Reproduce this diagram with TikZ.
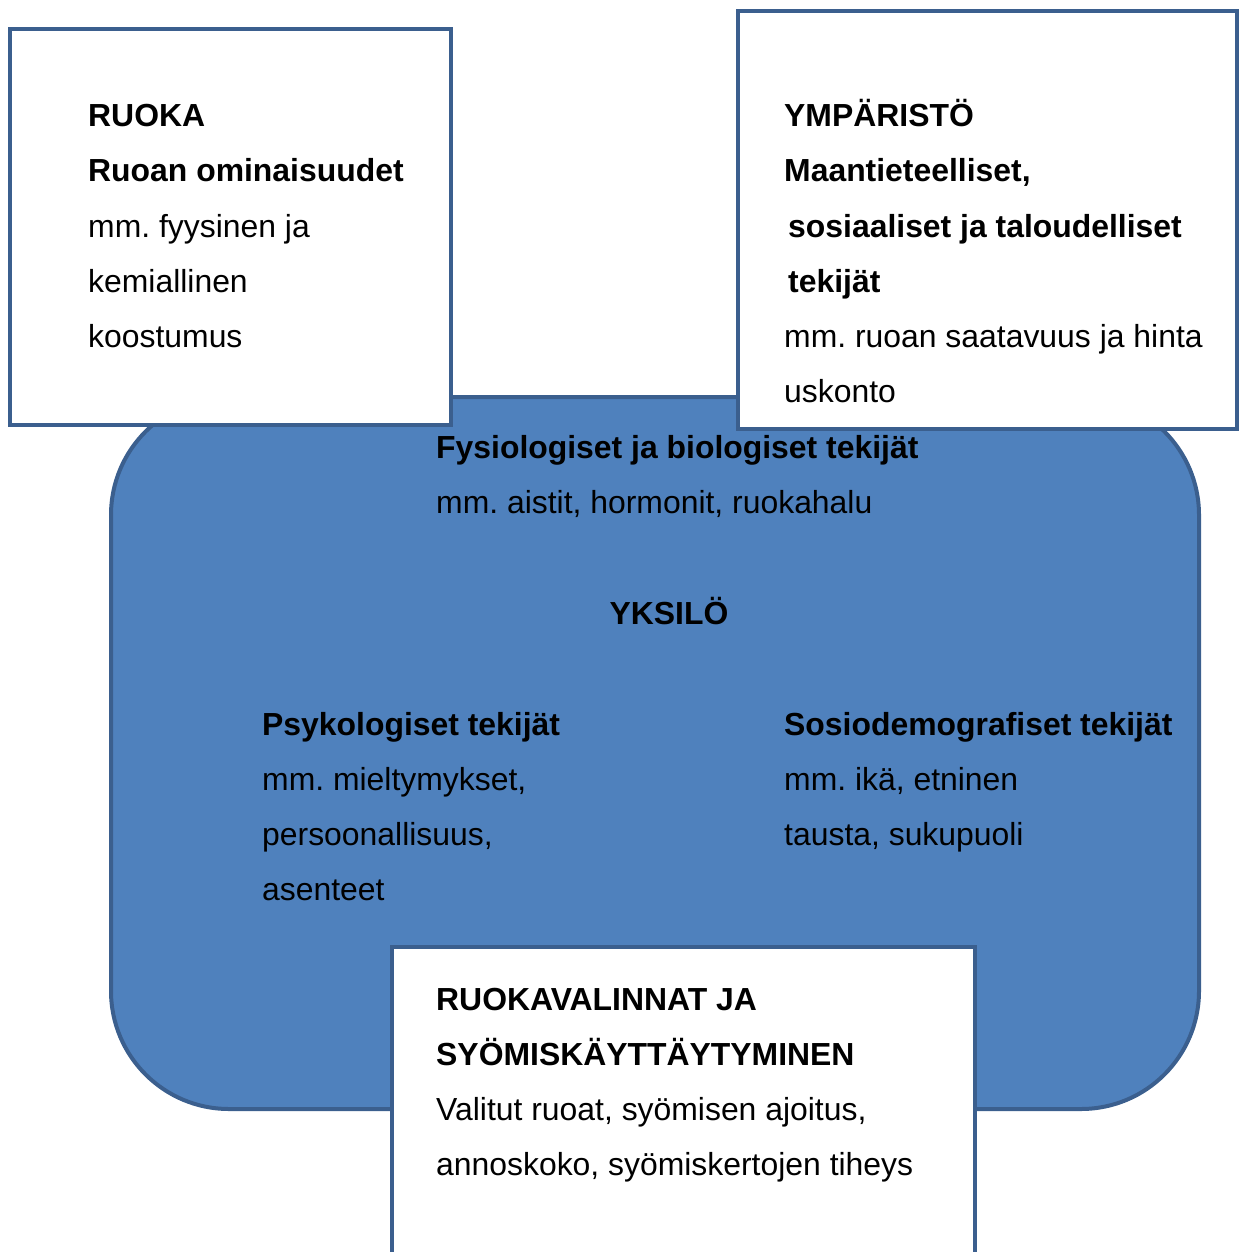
\documentclass[tikz,border=0pt]{standalone}
\usepackage{fontspec}
\setmainfont{Liberation Sans}
\frenchspacing
\definecolor{fillblue}{HTML}{4F81BD}
\definecolor{edgeblue}{HTML}{3B5F8E}
\begin{document}
\begin{tikzpicture}[x=1pt,y=-1pt,
  panel/.style={draw=edgeblue, line width=4pt, fill=white, inner sep=0pt, outer sep=0pt, anchor=north west},
  txt/.style={anchor=base west, inner sep=0pt, font=\fontsize{31.9}{38}\selectfont\frenchspacing},
  btxt/.style={txt, font=\fontsize{31.9}{38}\selectfont\bfseries\frenchspacing}]
\useasboundingbox (0,0) rectangle (1239,1252);
% central rounded area
\node[draw=edgeblue, line width=4pt, fill=fillblue, rounded corners=118pt, inner sep=0pt, anchor=north west,
  minimum width=1088pt, minimum height=712pt] (yksilo) at (109,395) {};
% boxes
\node[panel, minimum width=441pt, minimum height=395pt] (ruokabox) at (9.5,29.5) {};
\node[panel, minimum width=499pt, minimum height=417.5pt] (ymparbox) at (738,11) {};
\node[panel, minimum width=583pt, minimum height=340pt] (valbox) at (392,947) {};
% RUOKA
\node[btxt] (r1) at (88,127) {RUOKA};
\node[btxt] (r2) at (88,182) {Ruoan ominaisuudet};
\node[txt] (r3) at (88,237) {mm. fyysinen ja};
\node[txt] (r4) at (88,292) {kemiallinen};
\node[txt] (r5) at (88,347) {koostumus};
% YMPARISTO
\node[btxt] (y1) at (784,127) {YMPÄRISTÖ};
\node[btxt] (y2) at (784,182) {Maantieteelliset,};
\node[btxt] (y3) at (788,237) {sosiaaliset ja taloudelliset};
\node[btxt] (y4) at (788,292) {tekijät};
\node[txt] (y5) at (784,347) {mm. ruoan saatavuus ja hinta};
\node[txt] (y6) at (784,402) {uskonto};
% YKSILO content
\node[btxt] (f1) at (436,458) {Fysiologiset ja biologiset tekijät};
\node[txt] (f2) at (436,513) {mm. aistit, hormonit, ruokahalu};
\node[btxt, anchor=base] (k1) at (669,624) {YKSILÖ};
\node[btxt] (p1) at (262,735) {Psykologiset tekijät};
\node[txt] (p2) at (262,790) {mm. mieltymykset,};
\node[txt] (p3) at (262,845) {persoonallisuus,};
\node[txt] (p4) at (262,900) {asenteet};
\node[btxt] (s1) at (784,735) {Sosiodemografiset tekijät};
\node[txt] (s2) at (784,790) {mm. ikä, etninen};
\node[txt] (s3) at (784,845) {tausta, sukupuoli};
% RUOKAVALINNAT
\node[btxt] (v1) at (436,1010) {RUOKAVALINNAT JA};
\node[btxt] (v2) at (436,1065) {SYÖMISKÄYTTÄYTYMINEN};
\node[txt] (v3) at (436,1120) {Valitut ruoat, syömisen ajoitus,};
\node[txt] (v4) at (436,1175) {annoskoko, syömiskertojen tiheys};
\end{tikzpicture}
\end{document}
